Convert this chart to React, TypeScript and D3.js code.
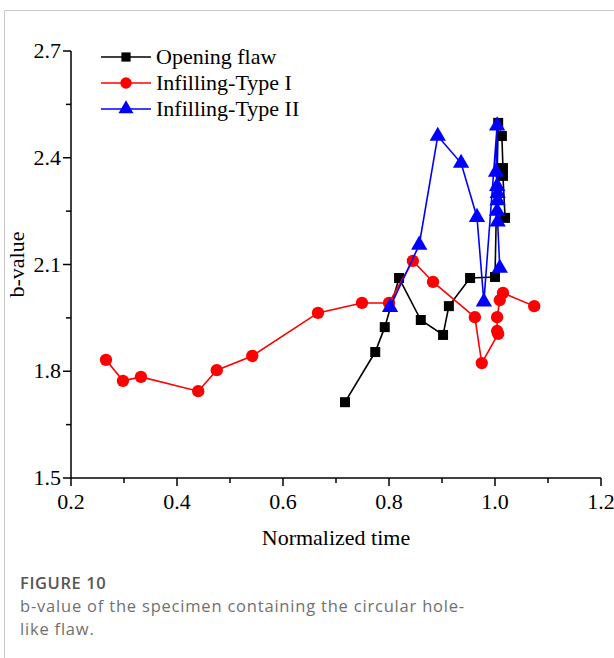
import React from 'react';
import * as d3 from 'd3';

// Opening flaw (black squares)
const openX = [0.717, 0.774, 0.792, 0.819, 0.860, 0.902, 0.913, 0.953, 1.0, 1.006, 1.013, 1.015, 1.015, 1.019];
const openY = [1.713, 1.854, 1.924, 2.062, 1.944, 1.902, 1.983, 2.062, 2.065, 2.498, 2.461, 2.371, 2.349, 2.231];

// Infilling-Type I (red circles)
const type1X = [0.266, 0.298, 0.332, 0.440, 0.475, 0.542, 0.666, 0.749, 0.800, 0.845, 0.883, 0.962, 0.975, 1.006, 1.004, 1.004, 1.009, 1.015, 1.074];
const type1Y = [1.832, 1.773, 1.784, 1.744, 1.803, 1.843, 1.964, 1.992, 1.992, 2.110, 2.051, 1.952, 1.823, 1.905, 1.913, 1.952, 2.000, 2.020, 1.983];

// Infilling-Type II (blue triangles)
const type2X = [0.802, 0.857, 0.892, 0.936, 0.966, 0.979, 1.004, 1.002, 1.004, 1.005, 1.005, 1.004, 1.005, 1.009];
const type2Y = [1.980, 2.155, 2.461, 2.385, 2.233, 1.995, 2.490, 2.360, 2.320, 2.300, 2.280, 2.250, 2.220, 2.090];

const xTicks = [0.2, 0.4, 0.6, 0.8, 1.0, 1.2];
const xMinor = [0.3, 0.5, 0.7, 0.9, 1.1];
const yTicks = [1.5, 1.8, 2.1, 2.4, 2.7];
const yMinor = [1.65, 1.95, 2.25, 2.55];

const seriesNames = ['Opening flaw', 'Infilling-Type I', 'Infilling-Type II'];

const serif = '"Liberation Serif", "Times New Roman", serif';

const App: React.FC = () => {
  const x = d3.scaleLinear().domain([0.2, 1.2]).range([71, 601]);
  const y = d3.scaleLinear().domain([1.5, 2.7]).range([478, 51]);

  const series = [
    { name: seriesNames[0], color: '#000', shape: d3.symbolSquare, size: 100, xs: openX, ys: openY },
    { name: seriesNames[1], color: '#ff0000', shape: d3.symbolCircle, size: 120, xs: type1X, ys: type1Y },
    { name: seriesNames[2], color: '#0000ff', shape: d3.symbolTriangle, size: 115, xs: type2X, ys: type2Y },
  ];

  const line = d3.line<[number, number]>().x(d => x(d[0])).y(d => y(d[1]));

  return (
    <svg width={614} height={658} style={{ position: 'absolute', left: 0, top: 0, background: '#fff' }}>
      {/* card frame */}
      <line x1={4.5} x2={614} y1={10.5} y2={10.5} stroke="#c8c8c8" strokeWidth={1} />
      <line x1={4.5} x2={4.5} y1={10.5} y2={658} stroke="#c8c8c8" strokeWidth={1} />

      {/* axes */}
      <g stroke="#000" strokeWidth={1.5} fill="none">
        <line x1={x(0.2)} x2={x(1.2)} y1={y(1.5)} y2={y(1.5)} />
        <line x1={x(0.2)} x2={x(0.2)} y1={y(1.5)} y2={y(2.7)} />
        {xTicks.map(t => <line key={'xt' + t} x1={x(t)} x2={x(t)} y1={y(1.5)} y2={y(1.5) + 8} />)}
        {xMinor.map(t => <line key={'xm' + t} x1={x(t)} x2={x(t)} y1={y(1.5)} y2={y(1.5) + 5} />)}
        {yTicks.map(t => <line key={'yt' + t} x1={x(0.2) - 8} x2={x(0.2)} y1={y(t)} y2={y(t)} />)}
        {yMinor.map(t => <line key={'ym' + t} x1={x(0.2) - 5} x2={x(0.2)} y1={y(t)} y2={y(t)} />)}
      </g>
      <g fontFamily={serif} fontSize={22} fill="#000">
        {xTicks.map(t => (
          <text key={'xl' + t} x={x(t)} y={y(1.5) + 31} textAnchor="middle">{t.toFixed(1)}</text>
        ))}
        {yTicks.map(t => (
          <text key={'yl' + t} x={x(0.2) - 10} y={y(t) + 7} textAnchor="end">{t.toFixed(1)}</text>
        ))}
        <text x={(x(0.2) + x(1.2)) / 2} y={545} textAnchor="middle">Normalized time</text>
        <text transform={`translate(24, ${(y(1.5) + y(2.7)) / 2}) rotate(-90)`} textAnchor="middle">b-value</text>
      </g>

      {/* series */}
      {series.map(s => {
        const pts = s.xs.map((v, i) => [v, s.ys[i]] as [number, number]);
        const sym = d3.symbol().type(s.shape).size(s.size)() as string;
        return (
          <g key={s.name}>
            <path d={line(pts) as string} fill="none" stroke={s.color} strokeWidth={1.6} />
            {pts.map((p, i) => (
              <path key={i} d={sym} transform={`translate(${x(p[0])},${y(p[1])})`} fill={s.color} />
            ))}
          </g>
        );
      })}

      {/* legend */}
      {series.map((s, i) => {
        const ly = 57 + i * 26;
        const sym = d3.symbol().type(s.shape).size(s.size * 0.85)() as string;
        return (
          <g key={'lg' + s.name}>
            <line x1={101} x2={151} y1={ly} y2={ly} stroke={s.color} strokeWidth={1.6} />
            <path d={sym} transform={`translate(126,${ly})`} fill={s.color} />
            <text x={156} y={ly + 7} fontFamily={serif} fontSize={22}>{s.name}</text>
          </g>
        );
      })}

      {/* caption */}
      <g fontFamily='"Open Sans", "Noto Sans", sans-serif' fontSize={16.5}>
        <text x={20} y={589} fontWeight={600} fill="#555" letterSpacing={0.6}>FIGURE 10</text>
        <text x={20} y={612} fill="#707070" letterSpacing={0.8}>b-value of the specimen containing the circular hole-</text>
        <text x={20} y={635} fill="#707070" letterSpacing={0.8}>like flaw.</text>
      </g>
    </svg>
  );
};

export default App;
